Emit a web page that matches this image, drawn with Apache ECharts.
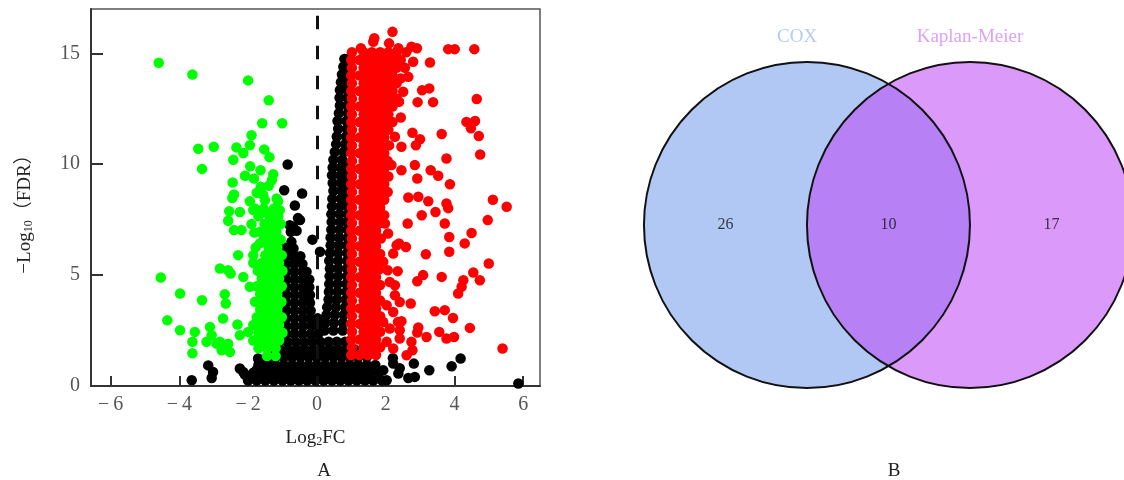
<!DOCTYPE html>
<html>
<head>
<meta charset="utf-8">
<script src="https://cdn.jsdelivr.net/npm/echarts@6/dist/echarts.min.js"></script>
<style>
html, body { margin: 0; padding: 0; background: #fff; }
#main { width: 1124px; height: 480px; }
</style>
</head>
<body>
<div id="main"></div>
<script>
// 火山图 + 韦恩图
var serif = '"Liberation Serif", "Times New Roman", "Noto Sans CJK SC", serif';

var xTicks = [-6, -4, -2, 0, 2, 4, 6];
var yTicks = [0, 5, 10, 15];

// [log2FC, -log10(FDR)] 下调基因（散点）
var downScatter = [
    [-4.6,14.58],[-3.62,14.05],[-2.0,13.78],[-1.4,12.88],[-1.59,11.85],[-1.01,11.85],[-1.9,11.31],
    [-3.45,10.7],[-3.0,10.79],[-3.34,9.79],[-2.34,10.76],[-1.95,10.86],[-2.14,10.51],[-1.53,10.67],
    [-1.38,10.32],[-2.43,10.2],[-1.94,9.91],[-1.64,9.73],[-2.09,9.48],[-1.27,9.55],[-2.45,9.18],
    [-1.83,9.36],[-1.31,9.28],[-1.63,8.98],[-1.4,9.03],[-2.41,8.64],[-1.75,8.71],[-1.56,8.61],
    [-1.17,8.46],[-2.46,8.48],[-1.95,8.33],[-1.51,8.38],[-1.13,8.33],[-2.55,7.88],[-2.24,7.85],
    [-1.85,7.93],[-1.51,7.85],[-1.27,7.78],[-1.08,7.93],[-2.58,7.45],[-2.41,7.03],[-2.19,7.03],
    [-1.82,6.92],[-1.46,6.8],[-1.17,6.72],[-1.66,6.43],[-2.29,5.9],[-1.85,5.9],[-2.82,5.3],
    [-2.51,5.07],[-2.58,5.22],[-2.14,4.92],[-1.95,4.47],[-4.54,4.89],[-3.98,4.17],[-3.34,3.87],
    [-2.68,4.14],[-2.65,3.72],[-4.35,2.96],[-3.98,2.51],[-3.55,2.44],[-3.62,1.99],[-3.62,1.48],
    [-3.11,2.66],[-3.21,1.99],[-3.06,2.29],[-2.92,1.91],[-2.77,1.61],[-2.58,1.91],[-2.53,1.53],
    [-2.73,3.04],[-2.31,2.77],[-2.24,2.29],[-2.0,2.44],[-2.82,1.99]
];
// 下调基因密集区，每行 [y, x1, x2, ...]
var downRows = [
    [1.35, -1.45,-1.2],
    [1.7, -1.7,-1.45,-1.2],
    [2.05, -1.85,-1.6,-1.35,-1.1],
    [2.4, -1.7,-1.45,-1.2,-1.0],
    [2.75, -1.85,-1.6,-1.35,-1.1],
    [3.1, -1.75,-1.5,-1.25,-1.02],
    [3.45, -1.65,-1.4,-1.15],
    [3.8, -1.8,-1.52,-1.28,-1.03],
    [4.15, -1.65,-1.4,-1.15],
    [4.5, -1.75,-1.5,-1.25,-1.02],
    [4.85, -1.6,-1.35,-1.1],
    [5.2, -1.72,-1.48,-1.22,-1.0],
    [5.55, -1.85,-1.6,-1.35,-1.1],
    [5.9, -1.5,-1.25,-1.02],
    [6.25, -1.78,-1.4,-1.15],
    [6.6, -1.55,-1.3,-1.05],
    [6.95, -1.65,-1.42,-1.18],
    [7.3, -1.9,-1.52,-1.28,-1.05],
    [7.65, -1.7,-1.38,-1.12],
    [8.0, -1.8,-1.55,-1.25]
];

// 上调基因（散点）
var upScatter = [
    [1.28,15.23],[1.67,15.68],[1.64,15.52],[2.2,15.97],[2.1,15.45],[2.37,15.23],[2.75,15.3],
    [2.91,15.23],[3.82,15.19],[4.01,15.19],[4.58,15.19],[3.29,14.59],[2.8,14.62],[2.66,13.94],
    [2.44,13.87],[3.06,13.34],[3.27,13.42],[2.51,13.27],[2.93,12.8],[3.38,12.8],[2.39,12.82],
    [2.44,12.11],[4.65,12.94],[4.35,11.91],[4.6,11.95],[4.48,11.62],[4.71,11.27],[4.75,10.44],
    [3.63,11.36],[3.77,10.26],[2.78,11.42],[3.0,11.13],[2.88,10.86],[2.27,11.24],[2.46,10.79],
    [2.85,9.96],[2.92,9.36],[3.31,9.73],[3.53,9.48],[3.87,9.1],[2.17,9.96],[2.46,9.73],
    [5.12,8.4],[5.52,8.08],[4.97,7.48],[4.5,6.9],[4.3,6.43],[5.0,5.52],[4.55,5.12],[4.74,4.77],
    [4.26,4.77],[4.21,4.47],[4.11,4.17],[3.85,6.72],[3.85,6.05],[3.63,4.92],[3.17,5.94],
    [3.72,7.33],[3.77,8.23],[3.82,8.02],[3.05,7.7],[2.64,7.33],[3.09,5.0],[2.92,4.72],[2.35,5.18],
    [2.06,5.22],[3.43,3.37],[3.72,3.42],[3.96,3.07],[4.45,2.62],[3.56,2.44],[3.77,2.14],
    [3.99,2.21],[2.95,2.64],[2.92,2.41],[3.19,2.21],[2.75,1.99],[2.78,1.61],[5.4,1.69],
    [2.73,3.72],[2.46,2.92],[2.41,2.51],[2.39,6.43],[2.59,6.27],[2.22,5.97],[2.66,8.5],
    [2.95,8.53],[3.24,8.33],[3.45,7.85],[2.27,4.09],[2.41,3.79],[2.03,3.64],[2.22,3.34],
    [1.93,2.89],[2.12,2.59],[2.41,2.14],[2.22,1.69],[2.03,1.99],[2.61,1.39],[2.07,6.88],
    [2.32,6.35],[1.98,7.33],[1.93,5.6],[2.12,4.69],[2.27,4.54],[2.36,2.89]
];
var upRows = [
    [1.4, 1.0,1.24,1.48,1.72],
    [1.75, 1.02,1.36,1.6,1.84],
    [2.1, 1.0,1.24,1.48,1.72],
    [2.45, 1.02,1.36,1.6,1.84],
    [2.8, 1.0,1.24,1.48,1.72],
    [3.15, 1.02,1.36,1.6,1.84],
    [3.5, 1.0,1.24,1.48,1.72],
    [3.85, 1.02,1.36,1.6,1.84],
    [4.2, 1.0,1.24,1.48,1.72],
    [4.55, 1.02,1.36,1.6,1.84],
    [4.9, 1.0,1.24,1.48,1.72],
    [5.25, 1.02,1.36,1.6,1.8],
    [5.6, 1.0,1.24,1.48,1.7],
    [5.95, 1.02,1.36,1.6,1.84],
    [6.3, 1.0,1.24,1.48,1.72],
    [6.65, 1.02,1.36,1.6,1.86],
    [7.0, 1.0,1.24,1.48,1.72],
    [7.35, 1.02,1.36,1.6,1.84],
    [7.7, 1.0,1.24,1.48,1.72,1.96],
    [8.05, 1.02,1.36,1.6,1.84],
    [8.4, 1.0,1.24,1.48,1.72,1.96],
    [8.75, 1.02,1.36,1.6,1.84,2.06],
    [9.1, 1.0,1.24,1.48,1.72,1.96],
    [9.45, 1.02,1.36,1.6,1.84,2.08],
    [9.8, 1.0,1.24,1.48,1.72,1.96],
    [10.15, 1.02,1.36,1.6,1.84,2.06],
    [10.5, 1.0,1.24,1.48,1.72,1.96],
    [10.85, 1.02,1.36,1.6,1.84,2.1],
    [11.2, 1.0,1.24,1.48,1.72,1.96],
    [11.55, 1.02,1.36,1.6,1.84,2.08],
    [11.9, 1.0,1.24,1.48,1.72,1.96,2.2],
    [12.25, 1.02,1.36,1.6,1.84,2.08],
    [12.6, 1.0,1.24,1.48,1.72,1.96,2.2],
    [12.95, 1.02,1.36,1.6,1.84,2.08,2.32],
    [13.3, 1.0,1.24,1.48,1.72,1.96,2.2],
    [13.65, 1.02,1.36,1.6,1.84,2.08,2.32],
    [14.0, 1.0,1.24,1.48,1.72,1.96,2.2],
    [14.35, 1.02,1.36,1.6,1.84,2.08,2.32,2.56],
    [14.7, 1.0,1.24,1.48,1.72,1.96,2.2,2.44],
    [15.05, 1.02,1.36,1.6,1.84,2.08,2.32,2.6]
];

// 非差异基因
var otherScatter = [
    [-3.64,0.26],[-3.16,0.93],[-3.06,0.36],[-3.02,0.63],[-2.24,0.79],[-2.14,0.63],[-2.09,0.5],
    [-1.9,0.41],[-1.71,1.24],[-1.56,0.93],[-1.76,0.71],[-1.66,1.16],[-1.32,1.24],[-1.08,0.86],
    [-0.98,1.46],[4.18,1.24],[3.92,0.89],[3.27,0.71],[2.82,1.01],[2.85,0.41],[2.66,0.36],
    [5.86,0.11],[2.21,1.25],[2.41,0.8],[2.22,1.01],[2.37,0.56],[1.93,0.71],[2.03,0.26],
    [-0.85,9.99],[-0.95,8.83],[-0.43,8.68],[-0.64,8.14],[-0.55,7.57],[-0.69,7.18],[-0.59,7.0],
    [-0.76,6.95],[-0.49,7.48],[-0.13,6.6],[0.09,6.05],[-0.98,6.27],[-0.79,7.25],[-0.74,6.5]
];
var otherRows = [
    [14.75, 0.8,0.9],
    [14.4, 0.77,0.92],
    [14.05, 0.73,0.9],
    [13.7, 0.7,0.9],
    [13.35, 0.67,0.9],
    [13.0, 0.66,0.9],
    [12.65, 0.67,0.9],
    [12.3, 0.64,0.9],
    [11.95, 0.6,0.86],
    [11.6, 0.62,0.88],
    [11.25, 0.58,0.85],
    [10.9, 0.56,0.82],
    [10.55, 0.52,0.78],
    [10.2, 0.48,0.74],
    [9.85, 0.46,0.7,0.9],
    [9.5, 0.44,0.68,0.9],
    [9.15, 0.46,0.7,0.9],
    [8.8, 0.48,0.72,0.9],
    [8.45, 0.45,0.7,0.9],
    [8.1, 0.44,0.68,0.9],
    [7.75, 0.42,0.66,0.9],
    [7.4, 0.43,0.68,0.9],
    [7.05, 0.42,0.66,0.9],
    [6.7, 0.4,0.65,0.9],
    [6.35, 0.4,0.64,0.88],
    [6.0, 0.38,0.62,0.88],
    [5.65, 0.36,0.62,0.88],
    [5.3, 0.38,0.62,0.88],
    [4.95, 0.37,0.62,0.88],
    [4.6, 0.36,0.6,0.86],
    [4.25, 0.35,0.6,0.86],
    [3.9, 0.34,0.58,0.84],
    [3.55, 0.3,0.55,0.82],
    [3.2, 0.28,0.52,0.78],
    [2.85, 0.25,0.5,0.76],
    [2.5, 0.22,0.48,0.75],
    [6.2, -0.9,-0.68],
    [5.85, -0.92,-0.7,-0.48],
    [5.5, -0.9,-0.66,-0.42],
    [5.15, -0.9,-0.66,-0.42,-0.3],
    [4.8, -0.88,-0.64,-0.4,-0.22],
    [4.45, -0.9,-0.66,-0.42,-0.22],
    [4.1, -0.88,-0.64,-0.4,-0.2],
    [3.75, -0.9,-0.66,-0.42,-0.2],
    [3.4, -0.88,-0.64,-0.4,-0.18],
    [3.05, -0.9,-0.66,-0.42,-0.2,0.02],
    [2.7, -0.88,-0.64,-0.4,-0.16,0.06],
    [2.35, -0.9,-0.66,-0.42,-0.18,0.04],
    [2.0, -1.1,-0.86,-0.62,-0.38,-0.14,0.1,0.34,0.58,0.82],
    [1.65, -1.3,-1.06,-0.82,-0.58,-0.34,-0.1,0.14,0.38,0.62,0.86,1.1],
    [1.3, -1.45,-1.2,-0.96,-0.72,-0.48,-0.24,0,0.24,0.48,0.72,0.96,1.2,1.45],
    [0.95, -1.7,-1.45,-1.2,-0.96,-0.72,-0.48,-0.24,0,0.24,0.48,0.72,0.96,1.2,1.45,1.7],
    [0.6, -1.85,-1.6,-1.35,-1.1,-0.86,-0.62,-0.38,-0.14,0.1,0.34,0.58,0.82,1.06,1.3,1.55,1.8],
    [0.25, -2.0,-1.75,-1.5,-1.25,-1.0,-0.76,-0.52,-0.28,-0.04,0.2,0.44,0.68,0.92,1.16,1.4,1.64,1.9]
];

// 韦恩图
var vennSets = ['COX', 'Kaplan-Meier'];
var vennCounts = [26, 10, 17]; // 仅COX, 交集, 仅KM

function rowsToPoints(rows) {
    var pts = [];
    rows.forEach(function (r) {
        for (var i = 1; i < r.length; i++) {
            pts.push([r[i], r[0]]);
        }
    });
    return pts;
}

var otherData = rowsToPoints(otherRows).concat(otherScatter);
var upData = rowsToPoints(upRows).concat(upScatter);
var downData = rowsToPoints(downRows).concat(downScatter);

function minusFmt(v) {
    return v < 0 ? '\u2212\u2009' + Math.abs(v) : String(v);
}

// 韦恩图布局（半径为1个单位，圆心间距1）
var vennCenters = [-0.5, 0.5];
var vennFill = ['rgb(176,200,243)', 'rgba(189,69,246,0.545)'];
var vennLabelColor = ['#b4cbf4', '#dba2fa'];
var vennLabelX = [-0.56, 0.5];
var vennCountX = [-1, 0, 1];

var chart = echarts.init(document.getElementById('main'));

var option = {
    animation: false,
    backgroundColor: '#fff',
    title: [
        { text: 'A', left: 319, top: 457, textAlign: 'center',
          textStyle: { fontFamily: serif, fontSize: 19, fontWeight: 'normal', color: '#222' } },
        { text: 'B', left: 889, top: 457, textAlign: 'center',
          textStyle: { fontFamily: serif, fontSize: 19, fontWeight: 'normal', color: '#222' } }
    ],
    grid: [
        { left: 91, right: 584, top: 9, bottom: 94, show: true,
          borderColor: '#555', borderWidth: 1.5, backgroundColor: 'transparent' },
        { left: 620, right: 0, top: 0, bottom: 0 }
    ],
    xAxis: [
        {
            gridIndex: 0,
            type: 'value',
            min: -6.57,
            max: 6.49,
            name: 'Log{s|2}FC',
            nameLocation: 'middle',
            nameGap: 42,
            nameTextStyle: {
                fontFamily: serif, fontSize: 19, color: '#222',
                rich: { s: { fontFamily: serif, fontSize: 12, padding: [8, 0, 0, 0], color: '#222' } }
            },
            splitLine: { show: false },
            axisLine: { onZero: false, lineStyle: { color: '#333', width: 2 } },
            axisTick: { inside: true, length: 10, customValues: xTicks, lineStyle: { color: '#333', width: 2 } },
            axisLabel: {
                customValues: xTicks, margin: 9, fontFamily: serif, fontSize: 20, color: '#555',
                formatter: minusFmt
            }
        },
        { gridIndex: 1, type: 'value', min: -1.647, max: 1.445, show: false }
    ],
    yAxis: [
        {
            gridIndex: 0,
            type: 'value',
            min: 0,
            max: 17,
            name: '\u2212Log{s|10}\uff08FDR\uff09',
            nameLocation: 'middle',
            nameRotate: 90,
            nameGap: 56,
            nameTextStyle: {
                fontFamily: serif, fontSize: 19, color: '#222', padding: [0, 24, 0, 0],
                rich: { s: { fontFamily: serif, fontSize: 12, padding: [8, 0, 0, 0], color: '#222' } }
            },
            splitLine: { show: false },
            axisLine: { onZero: false, lineStyle: { color: '#333', width: 2 } },
            axisTick: { inside: true, length: 12, customValues: yTicks, lineStyle: { color: '#333', width: 2 } },
            axisLabel: { customValues: yTicks, margin: 11, fontFamily: serif, fontSize: 20, color: '#555' }
        },
        { gridIndex: 1, type: 'value', min: -1.564, max: 1.380, show: false }
    ],
    series: [
        {
            // 虚线 x = 0
            type: 'scatter',
            xAxisIndex: 0, yAxisIndex: 0,
            data: [],
            z: 1,
            markLine: {
                silent: true,
                symbol: 'none',
                label: { show: false },
                lineStyle: { color: '#111', width: 3, type: [13.5, 16.5] },
                data: [[{ coord: [0, 16.7] }, { coord: [0, 0] }]]
            }
        },
        {
            name: 'other',
            type: 'scatter',
            xAxisIndex: 0, yAxisIndex: 0,
            data: otherData,
            symbolSize: 10.5,
            itemStyle: { color: '#000', opacity: 1 },
            z: 2
        },
        {
            name: 'up',
            type: 'scatter',
            xAxisIndex: 0, yAxisIndex: 0,
            data: upData,
            symbolSize: 10.5,
            itemStyle: { color: '#ff0000', opacity: 1 },
            z: 3
        },
        {
            name: 'down',
            type: 'scatter',
            xAxisIndex: 0, yAxisIndex: 0,
            data: downData,
            symbolSize: 10.5,
            itemStyle: { color: '#00ff00', opacity: 1 },
            z: 4
        },
        {
            // 韦恩图填充
            type: 'custom',
            xAxisIndex: 1, yAxisIndex: 1,
            data: vennSets.map(function (n, i) { return [i]; }),
            z: 5,
            renderItem: function (params, api) {
                var i = api.value(0);
                var c = api.coord([vennCenters[i], 0]);
                var r = api.size([1, 0])[0];
                var t = api.coord([vennLabelX[i], 1.155]);
                return {
                    type: 'group',
                    children: [
                        { type: 'circle', shape: { cx: c[0], cy: c[1], r: r }, style: { fill: vennFill[i] } },
                        { type: 'text', x: t[0], y: t[1],
                          style: { text: vennSets[i], fill: vennLabelColor[i], fontFamily: serif, fontSize: 19,
                                   align: 'center', verticalAlign: 'middle' } }
                    ]
                };
            }
        },
        {
            // 韦恩图边框
            type: 'custom',
            xAxisIndex: 1, yAxisIndex: 1,
            data: vennSets.map(function (n, i) { return [i]; }),
            z: 6,
            renderItem: function (params, api) {
                var i = api.value(0);
                var c = api.coord([vennCenters[i], 0]);
                var r = api.size([1, 0])[0];
                return { type: 'circle', shape: { cx: c[0], cy: c[1], r: r },
                         style: { fill: 'none', stroke: '#111', lineWidth: 2 } };
            }
        },
        {
            type: 'scatter',
            xAxisIndex: 1, yAxisIndex: 1,
            data: vennCounts.map(function (v, i) { return [vennCountX[i], 0, v]; }),
            symbolSize: 1,
            itemStyle: { color: 'transparent' },
            z: 7,
            label: {
                show: true, position: 'inside',
                formatter: function (p) { return p.value[2]; },
                fontFamily: serif, fontSize: 16, color: '#111'
            }
        }
    ]
};

chart.setOption(option);
</script>
</body>
</html>
